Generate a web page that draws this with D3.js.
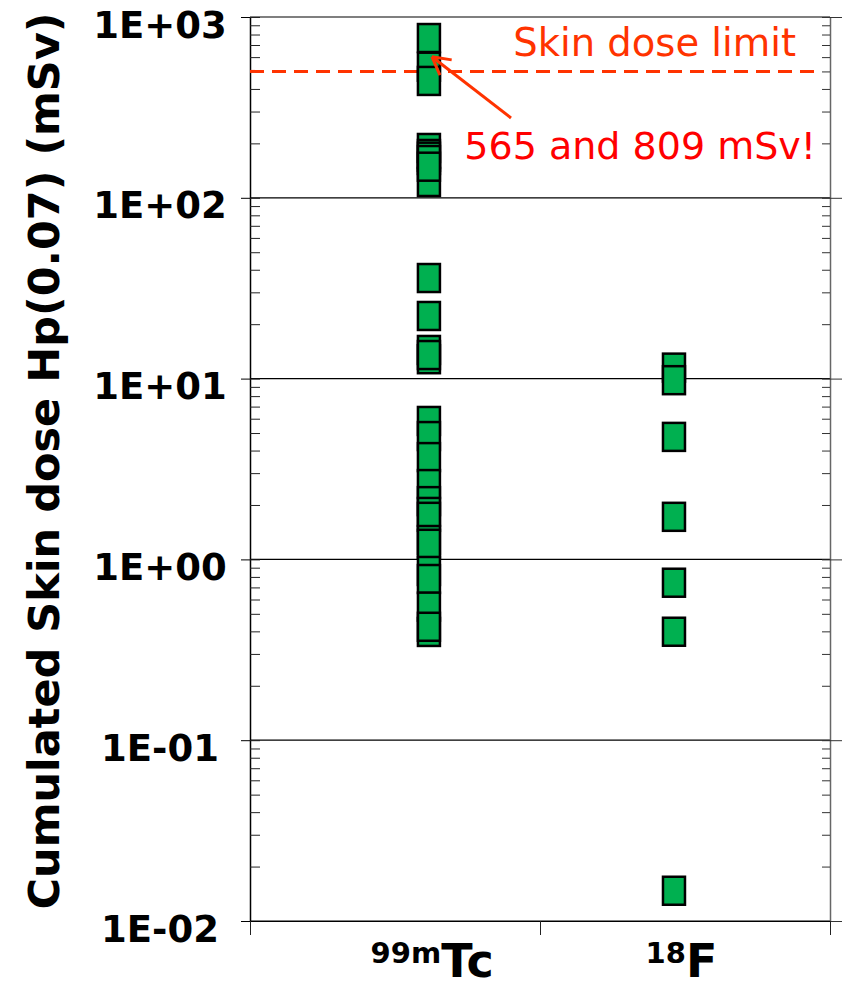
<!DOCTYPE html>
<meta charset="utf-8">
<style>
body { margin: 0; background: #fff; font-family: "DejaVu Sans", Verdana, sans-serif; }
.axis text { font: bold 37px "DejaVu Sans", Verdana, sans-serif; fill: #000; }
.grid line { stroke: #000; stroke-width: 1.2px; }
.dot { fill: #00b050; stroke: #000; stroke-width: 2.5px; }
</style>
<body>
<script src="https://cdn.jsdelivr.net/npm/d3@7"></script>
<script>

// cumulated skin dose Hp(0.07), mSv, per worker
var tcValues = [765, 531, 443,
  188.6, 174.7, 168.8, 161.8, 122.3, 148.6,
  36.0, 22.2, 14.4, 12.8, 13.5,
  5.83, 4.81, 3.68, 2.61, 2.10, 1.83, 1.72, 1.28, 1.22, 0.863, 0.779, 0.548, 0.397, 0.424];
var fValues = [11.5, 9.8, 4.76, 1.72, 0.743, 0.398, 0.0147];

// x position of each isotope column on the 0..2 axis
var isotopes = [
  {sup: "99m", name: "Tc", pos: 0.617, labelPos: 0.628, values: tcValues},
  {sup: "18", name: "F", pos: 1.462, labelPos: 1.488, values: fValues}
];

var yTicks = [1e-2, 1e-1, 1, 10, 100, 1000];
var skinLimit = 500;
var limitLabel = "Skin dose limit";
var noteLabel = "565 and 809 mSv!";
var yTitle = "Cumulated Skin dose Hp(0.07) (mSv)";

var width = 846, height = 987;
var margin = {left: 250, right: 830, top: 17, bottom: 921};

var svg = d3.select("body").append("svg")
    .attr("width", width)
    .attr("height", height);

var x = d3.scaleLinear().domain([0, 2]).range([margin.left, margin.right]);
var y = d3.scaleLog().domain([1e-2, 1e3]).range([margin.bottom, margin.top]);

var minors = [];
yTicks.slice(0, -1).forEach(function(d) {
  for (var k = 2; k < 10; k++) minors.push(d * k);
});

function fmt(d) {
  var e = Math.round(Math.log10(d));
  return "1E" + (e < 0 ? "-" : "+") + (Math.abs(e) < 10 ? "0" : "") + Math.abs(e);
}

// gridlines
svg.append("g").attr("class", "grid")
  .selectAll("line")
  .data(yTicks)
  .enter().append("line")
    .attr("x1", margin.left).attr("x2", margin.right)
    .attr("y1", function(d) { return y(d); })
    .attr("y2", function(d) { return y(d); });

// left axis, labels centred at x=160
var la = svg.append("g")
    .attr("class", "axis")
    .attr("transform", "translate(" + margin.left + ",0)")
    .call(d3.axisLeft(y).tickValues(yTicks).tickFormat(fmt).tickSize(9).tickSizeOuter(0));
la.select(".domain").attr("stroke", "#000").attr("stroke-width", 1.5);
la.selectAll("text")
    .attr("x", -90)
    .attr("dy", null)
    .attr("y", 20)
    .style("text-anchor", "middle");

svg.append("g")
    .attr("transform", "translate(" + margin.left + ",0)")
    .call(d3.axisRight(y).tickValues(minors.concat(yTicks)).tickFormat("").tickSize(10).tickSizeOuter(0))
    .call(function(g) { g.select(".domain").remove(); g.selectAll("line").attr("stroke", "#222"); });

// right axis
var ra = svg.append("g")
    .attr("transform", "translate(" + margin.right + ",0)")
    .call(d3.axisLeft(y).tickValues(minors.concat(yTicks)).tickFormat("").tickSize(8).tickSizeOuter(0));
ra.select(".domain").attr("stroke", "#666").attr("stroke-width", 1.5);
ra.selectAll("line").attr("stroke", "#333");
svg.append("g")
    .attr("transform", "translate(" + margin.right + ",0)")
    .call(d3.axisRight(y).tickValues(yTicks).tickFormat("").tickSize(12).tickSizeOuter(0))
    .call(function(g) { g.select(".domain").remove(); g.selectAll("line").attr("stroke", "#333"); });

// bottom axis
svg.append("g")
    .attr("transform", "translate(0," + margin.bottom + ")")
    .call(d3.axisBottom(x).tickValues([0, 1, 2]).tickFormat("").tickSize(14).tickSizeOuter(0))
    .call(function(g) { g.select(".domain").attr("stroke", "#000").attr("stroke-width", 1.2); g.selectAll("line").attr("stroke", "#222"); });

// limit line
svg.append("line")
    .attr("x1", margin.left).attr("x2", margin.right - 8)
    .attr("y1", y(skinLimit)).attr("y2", y(skinLimit))
    .attr("stroke", "#ff3300")
    .attr("stroke-width", 3)
    .attr("stroke-dasharray", "14,8");

// markers
var markW = 22, markH = 28;
isotopes.forEach(function(iso) {
  svg.selectAll(".dot-" + iso.name)
    .data(iso.values)
  .enter().append("rect")
    .attr("class", "dot")
    .attr("x", x(iso.pos) - markW / 2)
    .attr("y", function(d) { return y(d) - markH / 2; })
    .attr("width", markW)
    .attr("height", markH);
});

// x labels
isotopes.forEach(function(iso) {
  var t = svg.append("text")
      .attr("x", x(iso.labelPos))
      .attr("y", 977)
      .attr("text-anchor", "middle")
      .style("font-weight", "bold");
  t.append("tspan").attr("font-size", 29).attr("dy", -14).text(iso.sup);
  t.append("tspan").attr("font-size", 46).attr("dy", 14).text(iso.name);
});

// y title
svg.append("text")
    .attr("transform", "translate(59," + 461 + ") rotate(-90)")
    .attr("text-anchor", "middle")
    .style("font", "bold 43px 'DejaVu Sans', Verdana, sans-serif")
    .text(yTitle);

// annotations
svg.append("text")
    .attr("x", 796).attr("y", 56)
    .attr("text-anchor", "end")
    .attr("fill", "#ff3300")
    .style("font-size", "38.5px")
    .text(limitLabel);

svg.append("text")
    .attr("x", 816).attr("y", 159)
    .attr("text-anchor", "end")
    .attr("fill", "#ff0000")
    .style("font-size", "38px")
    .text(noteLabel);

// arrow pointing at the highest doses
var ax0 = 511, ay0 = 118, ax1 = x(isotopes[0].pos) + 3, ay1 = y(531) - 10;
svg.append("line")
    .attr("x1", ax0).attr("y1", ay0).attr("x2", ax1).attr("y2", ay1)
    .attr("stroke", "#ff3300").attr("stroke-width", 3);
var ang = Math.atan2(ay0 - ay1, ax0 - ax1);
[0.5, -0.5].forEach(function(a) {
  svg.append("line")
    .attr("x1", ax1).attr("y1", ay1)
    .attr("x2", ax1 + 20 * Math.cos(ang + a))
    .attr("y2", ay1 + 20 * Math.sin(ang + a))
    .attr("stroke", "#ff3300").attr("stroke-width", 3);
});

</script>
</body>
